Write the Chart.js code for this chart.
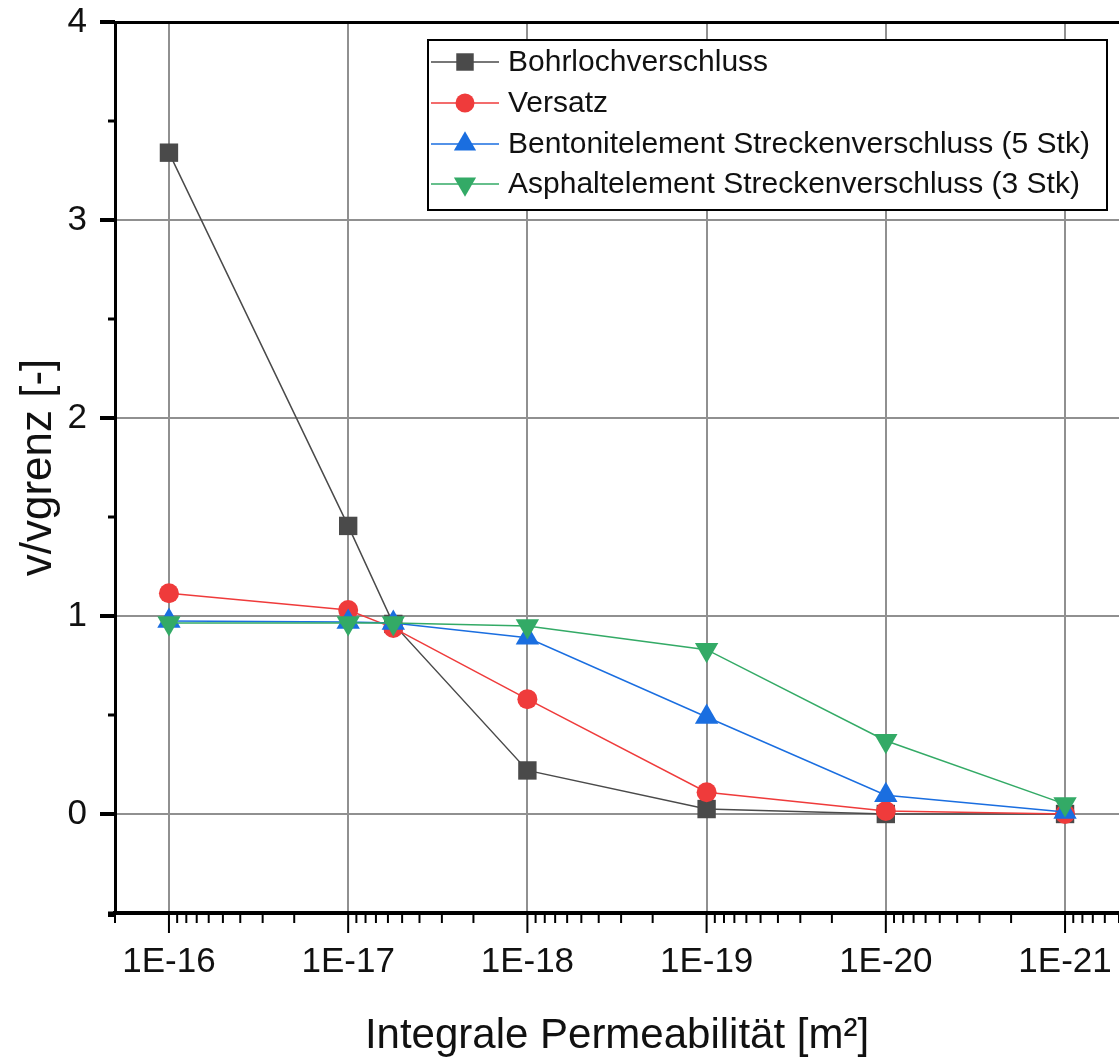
<!DOCTYPE html>
<html>
<head>
<meta charset="utf-8">
<script src="https://cdn.jsdelivr.net/npm/chart.js@4.4.0/dist/chart.umd.min.js"></script>
<style>
  html, body { margin: 0; padding: 0; background: #ffffff; }
  #wrap { width: 1119px; height: 1062px; }
</style>
</head>
<body>
<div id="wrap"><canvas id="c" width="1119" height="1062"></canvas></div>
<script>
// ---- data ----
const permeability = [1e-16, 1e-17, 5.6e-18, 1e-18, 1e-19, 1e-20, 1e-21];
const bohrlochverschluss = [3.34, 1.455, 0.96, 0.22, 0.025, 0.0, 0.0];
const versatz = [1.115, 1.03, 0.94, 0.58, 0.11, 0.015, 0.0];
const bentonitelement = [0.975, 0.97, 0.965, 0.89, 0.49, 0.095, 0.01];
const asphaltelement = [0.965, 0.965, 0.965, 0.95, 0.83, 0.37, 0.05];
const seriesLabels = [
  'Bohrlochverschluss',
  'Versatz',
  'Bentonitelement Streckenverschluss (5 Stk)',
  'Asphaltelement Streckenverschluss (3 Stk)'
];
const xMajorTicks = [1e-16, 1e-17, 1e-18, 1e-19, 1e-20, 1e-21];
const xTickLabels = ['1E-16', '1E-17', '1E-18', '1E-19', '1E-20', '1E-21'];
const yMajorTicks = [0, 1, 2, 3, 4];
const yTickLabels = ['0', '1', '2', '3', '4'];
const xTitle = 'Integrale Permeabilität [m²]';
const yTitle = 'v/vgrenz [-]';

const FONT = "'Liberation Sans', Arial, sans-serif";
const colors = ['#4a4a4a', '#ef3b3b', '#1a6ee0', '#33aa66'];
const pointStyles = ['rect', 'circle', 'triangle', 'triangle'];
const pointRot = [0, 0, 0, 180];
const pointRad = [13, 10, 13.5, 13.5];
const seriesValues = [bohrlochverschluss, versatz, bentonitelement, asphaltelement];

const datasets = seriesValues.map((vals, i) => ({
  label: seriesLabels[i],
  data: permeability.map((p, j) => ({ x: p, y: vals[j] })),
  borderColor: colors[i],
  backgroundColor: colors[i],
  borderWidth: 1.5,
  pointStyle: pointStyles[i],
  pointRotation: pointRot[i],
  pointRadius: pointRad[i],
  pointBorderWidth: 0,
  pointBackgroundColor: colors[i],
  pointBorderColor: colors[i],
  tension: 0,
  order: 4 - i
}));

// minor tick values
const xMinorTicks = [];
for (let d = -22; d <= -16; d++) {
  for (let k = 2; k <= 9; k++) {
    const v = k * Math.pow(10, d);
    if (v >= 5e-22 * 0.999 && v <= 2e-16 * 1.001) xMinorTicks.push(v);
  }
}
const yMinorTicks = [-0.5, 0.5, 1.5, 2.5, 3.5];

const frameAndLegend = {
  id: 'frameAndLegend',
  afterDraw(chart) {
    const ctx = chart.ctx;
    const xs = chart.scales.x, ys = chart.scales.y;
    const ca = chart.chartArea;
    ctx.save();
    ctx.strokeStyle = '#000';
    ctx.lineCap = 'butt';
    // top frame line
    ctx.lineWidth = 3;
    ctx.beginPath(); ctx.moveTo(ca.left - 1.5, ca.top + 0.5); ctx.lineTo(ca.right, ca.top + 0.5); ctx.stroke();
    // x axis tick marks
    ctx.lineWidth = 2;
    xMajorTicks.forEach(v => {
      const px = xs.getPixelForValue(v);
      ctx.beginPath(); ctx.moveTo(px, ca.bottom); ctx.lineTo(px, ca.bottom + 20); ctx.stroke();
    });
    xMinorTicks.forEach(v => {
      const px = xs.getPixelForValue(v);
      ctx.beginPath(); ctx.moveTo(px, ca.bottom); ctx.lineTo(px, ca.bottom + 10); ctx.stroke();
    });
    // short extension of x axis to the left
    ctx.lineWidth = 4;
    ctx.beginPath(); ctx.moveTo(ca.left - 7, ca.bottom + 2); ctx.lineTo(ca.left, ca.bottom + 2); ctx.stroke();
    // y axis tick marks
    ctx.lineWidth = 4;
    yMajorTicks.forEach(v => {
      const py = ys.getPixelForValue(v);
      ctx.beginPath(); ctx.moveTo(ca.left - 15, py); ctx.lineTo(ca.left, py); ctx.stroke();
    });
    ctx.lineWidth = 3;
    yMinorTicks.forEach(v => {
      const py = ys.getPixelForValue(v);
      ctx.beginPath(); ctx.moveTo(ca.left - 7, py); ctx.lineTo(ca.left, py); ctx.stroke();
    });

    // legend box
    const bx = 428, by = 40, bw = 679, bh = 170;
    ctx.fillStyle = '#fff';
    ctx.fillRect(bx, by, bw, bh);
    ctx.lineWidth = 2;
    ctx.strokeStyle = '#000';
    ctx.strokeRect(bx, by, bw, bh);
    const rows = [62, 103, 144, 184];
    chart.data.datasets.forEach((ds, i) => {
      const y = rows[i];
      ctx.strokeStyle = ds.borderColor;
      ctx.lineWidth = 1.5;
      ctx.beginPath(); ctx.moveTo(431, y); ctx.lineTo(499, y); ctx.stroke();
      ctx.fillStyle = ds.pointBackgroundColor;
      Chart.helpers.drawPoint(ctx, {
        pointStyle: ds.pointStyle, rotation: ds.pointRotation,
        radius: ds.pointRadius * 0.95, borderWidth: 0
      }, 465, y);
      ctx.fillStyle = '#111';
      ctx.font = '30px ' + FONT;
      ctx.textBaseline = 'middle';
      ctx.textAlign = 'left';
      ctx.fillText(ds.label, 508, y + 1);
    });
    ctx.restore();
  }
};

new Chart(document.getElementById('c'), {
  type: 'line',
  data: { datasets },
  options: {
    responsive: false,
    animation: false,
    layout: { autoPadding: false, padding: { top: 22, right: 0, left: 0, bottom: 0 } },
    plugins: { legend: { display: false }, tooltip: { enabled: false } },
    elements: { line: { borderWidth: 1.5 } },
    scales: {
      x: {
        type: 'logarithmic',
        reverse: true,
        min: 5e-22,
        max: 2e-16,
        afterBuildTicks: (scale) => { scale.ticks = xMajorTicks.map(v => ({ value: v })); },
        afterFit: (scale) => {
          scale.height = 149;
          scale.paddingLeft = 0; scale.paddingRight = 0;
          scale.paddingTop = 0; scale.paddingBottom = 0;
        },
        ticks: {
          autoSkip: false,
          maxRotation: 0,
          padding: 28,
          color: '#111',
          font: { family: FONT, size: 35 },
          callback: (value) => {
            const idx = xMajorTicks.findIndex(t => Math.abs(Math.log10(t) - Math.log10(value)) < 1e-6);
            return idx >= 0 ? xTickLabels[idx] : '';
          }
        },
        grid: { color: '#909090', lineWidth: 2, drawTicks: false },
        border: { color: '#000', width: 4 },
        title: {
          display: true, text: xTitle, color: '#111',
          font: { family: FONT, size: 42 },
          padding: { top: 0, bottom: 0 }
        }
      },
      y: {
        type: 'linear',
        min: -0.5,
        max: 4,
        afterBuildTicks: (scale) => { scale.ticks = yMajorTicks.map(v => ({ value: v })); },
        afterFit: (scale) => {
          scale.width = 115;
          scale.paddingLeft = 0; scale.paddingRight = 0;
          scale.paddingTop = 0; scale.paddingBottom = 0;
        },
        ticks: {
          padding: 28,
          color: '#111',
          font: { family: FONT, size: 35 },
          callback: (value) => {
            const idx = yMajorTicks.indexOf(value);
            return idx >= 0 ? yTickLabels[idx] : '';
          }
        },
        grid: { color: '#909090', lineWidth: 2, drawTicks: false },
        border: { color: '#000', width: 3 },
        title: {
          display: true, text: yTitle, color: '#111',
          font: { family: FONT, size: 44 },
          padding: { top: 12, bottom: 0 }
        }
      }
    }
  },
  plugins: [frameAndLegend]
});
</script>
</body>
</html>
